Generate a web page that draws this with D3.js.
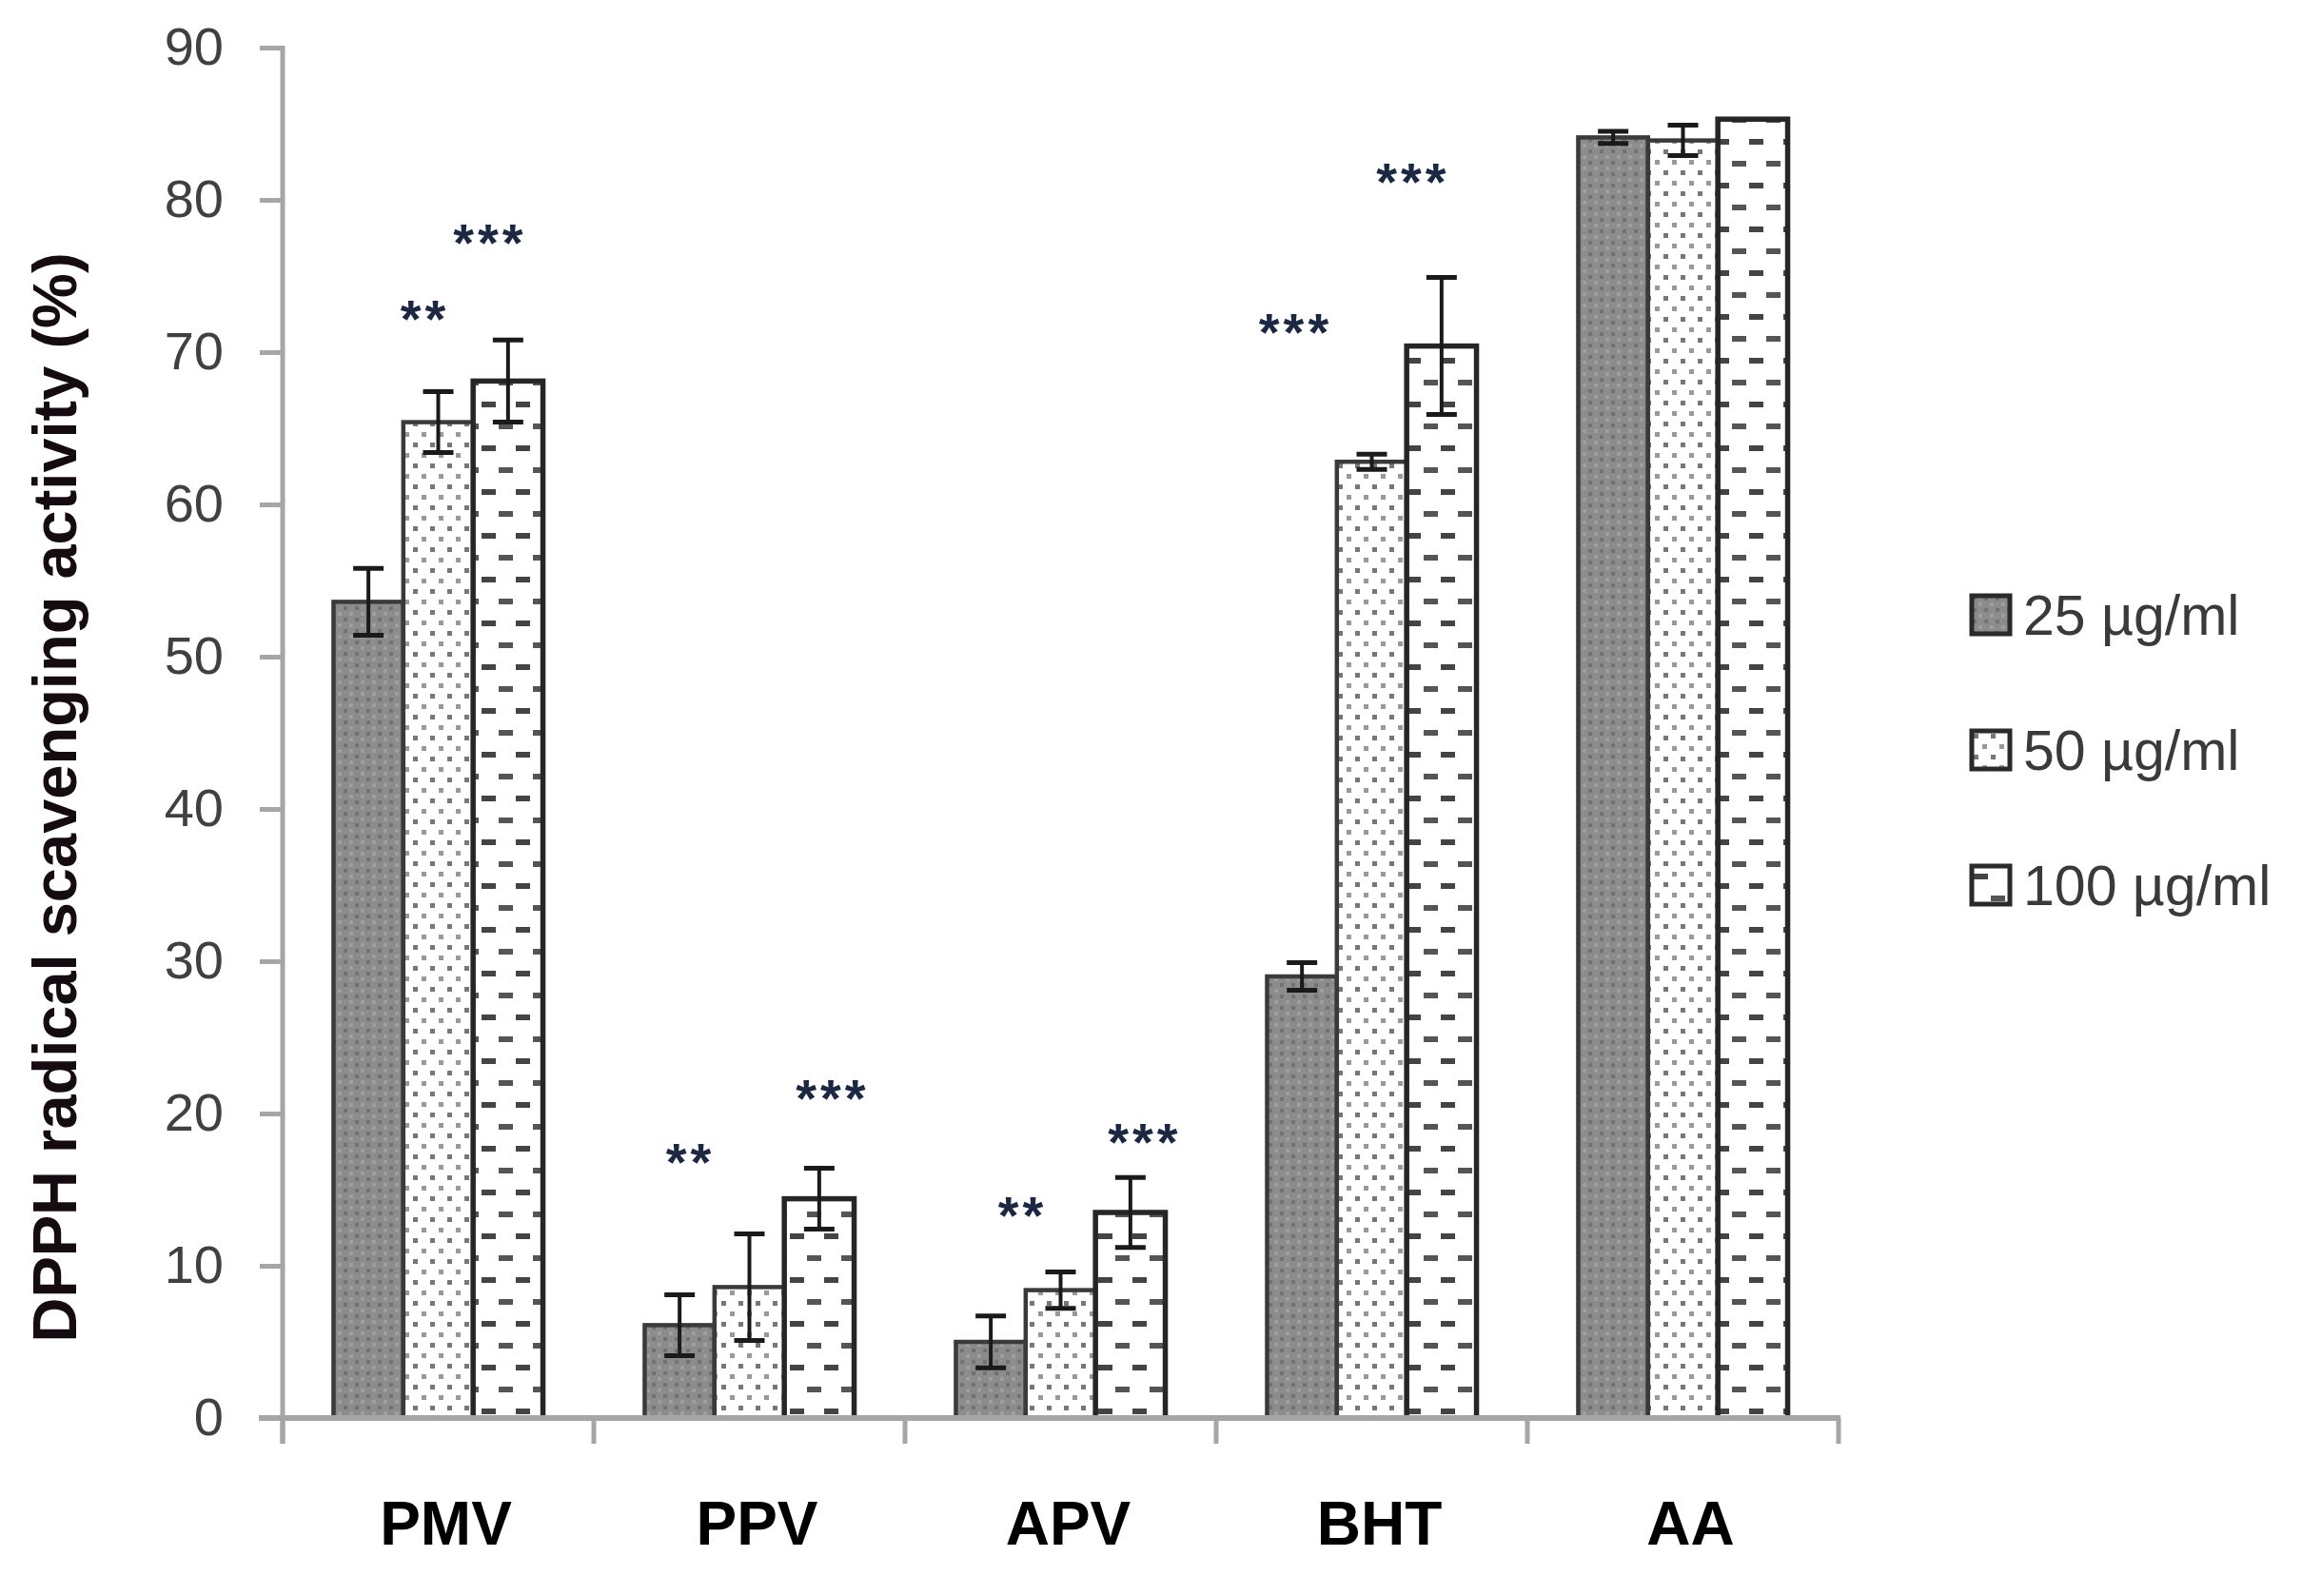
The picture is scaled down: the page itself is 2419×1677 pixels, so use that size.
<!DOCTYPE html>
<html>
<head>
<meta charset="utf-8">
<script src="https://cdn.jsdelivr.net/npm/d3@7"></script>
<style>
    body { margin: 0; background: #fff; }
    svg { display: block; }
</style>
</head>
<body>
<svg id="chart_svg" width="2419" height="1677"></svg>
<script>
// values
var categories = ['PMV', 'PPV', 'APV', 'BHT', 'AA'];
var seriesNames = ['25 \u00b5g/ml', '50 \u00b5g/ml', '100 \u00b5g/ml'];

var values25 = [53.6, 6.1, 5.0, 29.0, 84.1];
var values50 = [65.4, 8.6, 8.4, 62.8, 83.9];
var values100 = [68.1, 14.4, 13.5, 70.4, 85.3];

var err25 = [2.2, 2.0, 1.7, 0.9, 0.4];
var err50 = [2.0, 3.5, 1.2, 0.5, 1.0];
var err100 = [2.7, 2.0, 2.3, 4.5, 0];

var yTicks = [0, 10, 20, 30, 40, 50, 60, 70, 80, 90];

// significance stars: category, series index, text, height (in % units)
var starCats = ['PMV', 'PMV', 'PPV', 'PPV', 'APV', 'APV', 'BHT', 'BHT'];
var starSeries = [1, 2, 1, 2, 1, 2, 1, 2];
var starText = ['**', '***', '**', '***', '**', '***', '***', '***'];
var starLevel = [72.7, 77.7, 17.3, 21.5, 13.8, 18.6, 71.8, 81.7];


function DrawBars() {
    var self = this;
    self.svg = d3.select('#chart_svg');
    self.init();
}

DrawBars.prototype.init = function () {
    var self = this;

    self.y = d3.scaleLinear()
        .domain([0, 90])
        .range([1490, 50]);

    self.x0 = d3.scaleBand()
        .domain(categories)
        .range([297, 1932])
        .paddingInner(0.327)
        .paddingOuter(0.1635);

    self.x1 = d3.scaleBand()
        .domain([0, 1, 2])
        .range([0, self.x0.bandwidth()]);

    self.rows = [];
    var vals = [values25, values50, values100];
    var errs = [err25, err50, err100];
    categories.forEach(function (c, i) {
        for (var s = 0; s < 3; s++) {
            self.rows.push({cat: c, s: s, v: vals[s][i], e: errs[s][i]});
        }
    });

    self.makePatterns();
};

DrawBars.prototype.makePatterns = function () {
    var self = this;
    var defs = self.svg.append('defs');

    // 25 : grey with darker speckles
    var p1 = defs.append('pattern')
        .attr('id', 'pat25')
        .attr('patternUnits', 'userSpaceOnUse')
        .attr('width', 12).attr('height', 12);
    p1.append('rect').attr('width', 12).attr('height', 12).attr('fill', '#8c8c8c');
    p1.append('rect').attr('x', 1).attr('y', 1).attr('width', 4).attr('height', 4).attr('fill', '#727272');
    p1.append('rect').attr('x', 7).attr('y', 7).attr('width', 4).attr('height', 4).attr('fill', '#9e9e9e');

    // 50 : white with small grey dots
    var p2 = defs.append('pattern')
        .attr('id', 'pat50')
        .attr('patternUnits', 'userSpaceOnUse')
        .attr('width', 18).attr('height', 22);
    p2.append('rect').attr('width', 18).attr('height', 22).attr('fill', '#fff');
    p2.append('rect').attr('x', 2).attr('y', 3).attr('width', 5).attr('height', 5).attr('fill', '#777');
    p2.append('rect').attr('x', 11).attr('y', 14).attr('width', 5).attr('height', 5).attr('fill', '#999');

    // 100 : white with staggered dashes
    var p3 = defs.append('pattern')
        .attr('id', 'pat100')
        .attr('patternUnits', 'userSpaceOnUse')
        .attr('width', 36).attr('height', 46);
    p3.append('rect').attr('width', 36).attr('height', 46).attr('fill', '#fff');
    p3.append('rect').attr('x', 2).attr('y', 8).attr('width', 15).attr('height', 6).attr('fill', '#444');
    p3.append('rect').attr('x', 20).attr('y', 31).attr('width', 15).attr('height', 6).attr('fill', '#555');
};

DrawBars.prototype.draw = function () {
    var self = this;
    var fills = ['url(#pat25)', 'url(#pat50)', 'url(#pat100)'];
    var strokes = ['#3a3a3a', '#3a3a3a', '#262626'];

    // axes
    var yAxis = d3.axisLeft(self.y)
        .tickValues(yTicks)
        .tickSize(24)
        .tickPadding(38);

    var gy = self.svg.append('g')
        .attr('transform', 'translate(297,0)')
        .call(yAxis);
    gy.select('.domain').remove();
    gy.selectAll('.tick line')
        .attr('stroke', '#a6a6a6')
        .attr('stroke-width', 5);
    gy.selectAll('.tick text')
        .attr('fill', '#404040')
        .style('font-family', '"Liberation Sans", Arial, sans-serif')
        .style('font-size', '56px');

    self.svg.append('line')
        .attr('x1', 297).attr('x2', 297)
        .attr('y1', self.y(90) - 2).attr('y2', self.y(0) + 27)
        .attr('stroke', '#a6a6a6').attr('stroke-width', 5);

    // bars
    var bars = self.svg.selectAll('.bar')
        .data(self.rows);

    bars.enter().append('rect')
        .classed('bar', true)
        .attr('x', function (d) { return self.x0(d.cat) + self.x1(d.s); })
        .attr('y', function (d) { return self.y(d.v); })
        .attr('width', self.x1.bandwidth())
        .attr('height', function (d) { return self.y(0) - self.y(d.v); })
        .attr('fill', function (d) { return fills[d.s]; })
        .attr('stroke', function (d) { return strokes[d.s]; })
        .attr('stroke-width', function (d) { return d.s === 2 ? 5.5 : 4.5; });

    // x axis line and category ticks
    self.svg.append('line')
        .attr('x1', 272).attr('x2', 1934)
        .attr('y1', self.y(0)).attr('y2', self.y(0))
        .attr('stroke', '#a6a6a6').attr('stroke-width', 6);

    var step = self.x0.step();
    var edges = d3.range(categories.length + 1).map(function (i) { return self.x0.range()[0] + i * step; });
    self.svg.selectAll('.cattick')
        .data(edges)
        .enter().append('line')
        .classed('cattick', true)
        .attr('x1', function (d) { return d; })
        .attr('x2', function (d) { return d; })
        .attr('y1', self.y(0))
        .attr('y2', self.y(0) + 27)
        .attr('stroke', '#a6a6a6').attr('stroke-width', 5);

    self.svg.selectAll('.catlabel')
        .data(categories)
        .enter().append('text')
        .classed('catlabel', true)
        .attr('x', function (d) { return self.x0(d) + self.x0.bandwidth() / 2 + 8; })
        .attr('y', 1623)
        .attr('text-anchor', 'middle')
        .attr('fill', '#000')
        .style('font-family', '"Liberation Sans", Arial, sans-serif')
        .style('font-weight', 'bold')
        .style('font-size', '64px')
        .text(function (d) { return d; });

    // error bars
    var errRows = self.rows.filter(function (d) { return d.e > 0; });
    var cap = 16;
    var eb = self.svg.selectAll('.err')
        .data(errRows)
        .enter().append('g')
        .classed('err', true)
        .attr('transform', function (d) {
            return 'translate(' + (self.x0(d.cat) + self.x1(d.s) + self.x1.bandwidth() / 2) + ',0)';
        });
    eb.append('line')
        .attr('y1', function (d) { return self.y(d.v + d.e); })
        .attr('y2', function (d) { return self.y(d.v - d.e); })
        .attr('stroke', '#1a1a1a').attr('stroke-width', 4);
    eb.append('line')
        .attr('x1', -cap).attr('x2', cap)
        .attr('y1', function (d) { return self.y(d.v + d.e); })
        .attr('y2', function (d) { return self.y(d.v + d.e); })
        .attr('stroke', '#1a1a1a').attr('stroke-width', 5);
    eb.append('line')
        .attr('x1', -cap).attr('x2', cap)
        .attr('y1', function (d) { return self.y(d.v - d.e); })
        .attr('y2', function (d) { return self.y(d.v - d.e); })
        .attr('stroke', '#1a1a1a').attr('stroke-width', 5);

    // stars
    var starShift = [-14, -19, -62, 14, -40, 15, -80, -30];
    self.svg.selectAll('.star')
        .data(starText)
        .enter().append('text')
        .classed('star', true)
        .attr('x', function (d, i) {
            return self.x0(starCats[i]) + self.x1(starSeries[i]) + self.x1.bandwidth() / 2 + starShift[i];
        })
        .attr('y', function (d, i) { return self.y(starLevel[i]) + 27; })
        .attr('text-anchor', 'middle')
        .attr('fill', '#1c2742')
        .style('font-family', '"Liberation Sans", Arial, sans-serif')
        .style('font-weight', 'bold')
        .style('font-size', '56px')
        .style('letter-spacing', '4px')
        .text(function (d) { return d; });

    // y title
    self.svg.append('text')
        .attr('transform', 'translate(80,838) rotate(-90)')
        .attr('text-anchor', 'middle')
        .attr('fill', '#140c10')
        .style('font-family', '"Liberation Sans", Arial, sans-serif')
        .style('font-weight', 'bold')
        .style('font-size', '65px')
        .text('DPPH radical scavenging activity (%)');

    // legend
    var leg = self.svg.selectAll('.leg')
        .data(seriesNames)
        .enter().append('g')
        .classed('leg', true)
        .attr('transform', function (d, i) { return 'translate(2072,' + (626 + i * 142) + ')'; });
    leg.append('rect')
        .attr('width', 40).attr('height', 40)
        .attr('fill', function (d, i) { return fills[i]; })
        .attr('stroke', '#2a2a2a')
        .attr('stroke-width', 5);
    leg.append('text')
        .attr('x', 54)
        .attr('y', 41)
        .attr('fill', '#3a3a3a')
        .style('font-family', '"Liberation Sans", Arial, sans-serif')
        .style('font-size', '59px')
        .text(function (d) { return d; });

    console.log('ready!');
};

var chart = new DrawBars();
chart.draw();
</script>
</body>
</html>
